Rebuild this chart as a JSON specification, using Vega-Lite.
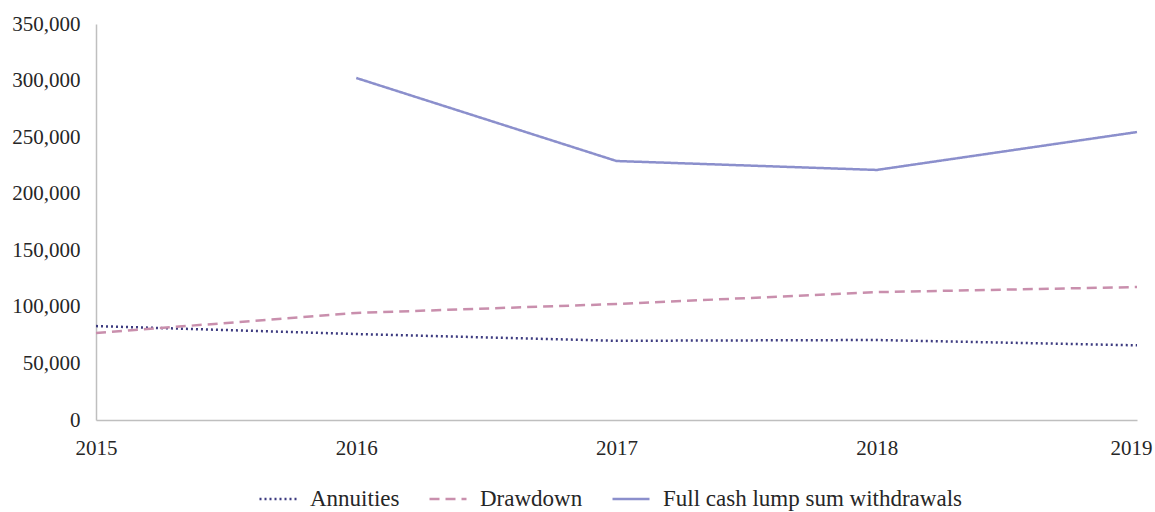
{
  "$schema": "https://vega.github.io/schema/vega-lite/v6.json",
  "width": 1041,
  "height": 396,
  "autosize": {"type": "none"},
  "padding": {"left": 96, "top": 24, "right": 18, "bottom": 92},
  "background": "white",
  "config": {
    "view": {"stroke": null},
    "font": "Liberation Serif",
    "axis": {"labelFont": "Liberation Serif", "labelFontSize": 21, "labelColor": "#262626", "grid": false, "ticks": false, "domainColor": "#bfbfbf", "domainWidth": 1.5, "title": null},
    "legend": {"labelFont": "Liberation Serif", "labelFontSize": 23, "labelColor": "#262626", "labelLimit": 0}
  },
  "data": {
    "values": [
      {"year": 2015, "series": "Annuities", "value": 83000},
      {"year": 2016, "series": "Annuities", "value": 76000},
      {"year": 2017, "series": "Annuities", "value": 70000},
      {"year": 2018, "series": "Annuities", "value": 70700},
      {"year": 2019, "series": "Annuities", "value": 66000},
      {"year": 2015, "series": "Drawdown", "value": 76900},
      {"year": 2016, "series": "Drawdown", "value": 94600},
      {"year": 2017, "series": "Drawdown", "value": 102500},
      {"year": 2018, "series": "Drawdown", "value": 113000},
      {"year": 2019, "series": "Drawdown", "value": 117500},
      {"year": 2016, "series": "Full cash lump sum withdrawals", "value": 302300},
      {"year": 2017, "series": "Full cash lump sum withdrawals", "value": 228900},
      {"year": 2018, "series": "Full cash lump sum withdrawals", "value": 221000},
      {"year": 2019, "series": "Full cash lump sum withdrawals", "value": 254500}
    ]
  },
  "mark": {"type": "line", "interpolate": "linear", "strokeWidth": 2.5},
  "encoding": {
    "x": {"field": "year", "type": "quantitative", "scale": {"domain": [2015, 2019], "nice": false}, "axis": {"values": [2015, 2016, 2017, 2018, 2019], "format": "d", "labelPadding": 17, "labelFlush": false, "labelOffset": {"expr": "datum.value == 2019 ? -6 : 0"}}},
    "y": {"field": "value", "type": "quantitative", "scale": {"domain": [0, 350000], "nice": false}, "axis": {"values": [0, 50000, 100000, 150000, 200000, 250000, 300000, 350000], "format": ",d", "labelPadding": 16}},
    "color": {"field": "series", "type": "nominal", "scale": {"domain": ["Annuities", "Drawdown", "Full cash lump sum withdrawals"], "range": ["#3d3b80", "#c98fad", "#8b8fcc"]}, "legend": {"orient": "none", "legendX": 162, "legendY": 455, "direction": "horizontal", "title": null, "symbolType": "stroke", "symbolSize": 1369, "symbolStrokeWidth": 2.5, "columnPadding": 24, "labelOffset": 12}},
    "strokeDash": {"field": "series", "type": "nominal", "scale": {"domain": ["Annuities", "Drawdown", "Full cash lump sum withdrawals"], "range": [[2, 3], [10, 6], [1, 0]]}, "legend": null}
  }
}
